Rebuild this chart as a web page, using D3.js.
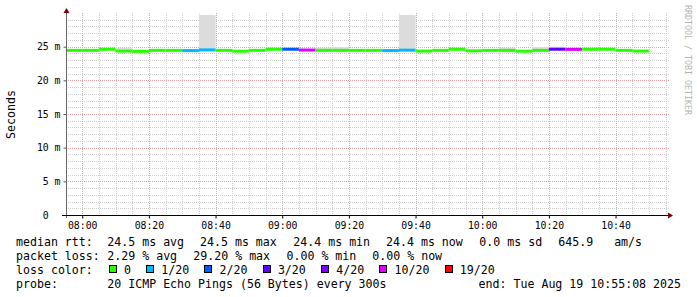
<!DOCTYPE html>
<html><head><meta charset="utf-8">
<script src="https://cdn.jsdelivr.net/npm/d3@7"></script>
<style>
html,body{margin:0;padding:0;background:#fff;}
svg{display:block;}
text{font-family:"DejaVu Sans Mono",monospace;}
</style></head><body>
<svg id="c" width="697" height="297"></svg>
<script>
// ---------- data ----------
const timeStart = "07:55:08";
const timeEnd = "10:55:08";
const slotStarts = ["07:55","08:00","08:05","08:10","08:15","08:20","08:25","08:30","08:35","08:40",
  "08:45","08:50","08:55","09:00","09:05","09:10","09:15","09:20","09:25","09:30",
  "09:35","09:40","09:45","09:50","09:55","10:00","10:05","10:10","10:15","10:20",
  "10:25","10:30","10:35","10:40","10:45"];
const medianMs = [24.45,24.45,24.62,24.35,24.30,24.45,24.45,24.42,24.52,24.45,
  24.33,24.45,24.62,24.62,24.50,24.45,24.45,24.45,24.45,24.42,
  24.48,24.35,24.45,24.62,24.38,24.45,24.45,24.33,24.45,24.62,
  24.60,24.62,24.62,24.45,24.35];
const lossCount = [0,0,0,0,0,0,0,1,1,0,
  0,0,0,2,10,0,0,0,0,1,
  1,0,0,0,0,0,0,0,0,3,
  10,0,0,0,0];
const smokeTopMs = [null,null,null,24.85,null,null,null,null,29.7,null,
  null,null,null,null,null,24.85,24.95,null,null,null,
  29.7,null,null,null,null,null,24.85,null,24.95,25.0,
  null,null,null,null,null];
const lossLegendLabels = ["0","1/20","2/20","3/20","4/20","10/20","19/20"];
const lossThresholds = [0,1,2,3,4,10,19];
const lossColors = ["#26ff00","#00b8ff","#0059ff","#5e00ff","#7e00ff","#dd00ff","#ff0000"];
const yTickValues = [0,5,10,15,20,25];
const yMaxMs = 30;
const yAxisTitle = "Seconds";
const watermark = "RRDTOOL / TOBI OETIKER";
const rttRow = ["median rtt:","24.5 ms avg","24.5 ms max","24.4 ms min","24.4 ms now","0.0 ms sd","645.9   am/s"];
const lossRow = ["packet loss:","2.29 % avg","29.20 % max","0.00 % min","0.00 % now"];
const lossColorTitle = "loss color:";
const probeRow = ["probe:","20 ICMP Echo Pings (56 Bytes) every 300s"];
const endText = "end: Tue Aug 19 10:55:08 2025";

// ---------- layout ----------
const plot = {left:66, right:666, top:13, bottom:215};
const svg = d3.select("#c");
const parseT = d3.timeParse("%H:%M:%S");
const parseM = d3.timeParse("%H:%M");
const t0 = parseT(timeStart), t1 = parseT(timeEnd);
const x = d3.scaleTime().domain([t0, t1]).range([plot.left, plot.right]);
const y = d3.scaleLinear().domain([0, yMaxMs]).range([plot.bottom, plot.top]);
const px = v => Math.round(v) + 0.5;

svg.append("rect").attr("width",697).attr("height",297).attr("fill","#fff");

// clip
svg.append("clipPath").attr("id","pc").append("rect")
  .attr("x",plot.left).attr("y",plot.top)
  .attr("width",plot.right-plot.left).attr("height",plot.bottom-plot.top);

// grid
const grid = svg.append("g");
const hVals = d3.range(1, yMaxMs);
grid.selectAll("line.h").data(hVals).join("line")
  .attr("x1",plot.left).attr("x2",plot.right+3)
  .attr("y1",d=>px(y(d))).attr("y2",d=>px(y(d)))
  .attr("stroke",d=>d%5===0?"#eaa3a3":"#cfcfcf")
  .attr("stroke-dasharray","1,1");
const vVals = d3.timeMinute.every(5).range(t0, t1);
grid.selectAll("line.v").data(vVals).join("line")
  .attr("x1",d=>px(x(d))).attr("x2",d=>px(x(d)))
  .attr("y1",plot.top).attr("y2",plot.bottom)
  .attr("stroke",d=>d.getMinutes()%20===0?"#eaa3a3":"#cfcfcf")
  .attr("stroke-dasharray","1,1");

// data rows
const rows = slotStarts.map((s,i)=>{
  const a = parseM(s);
  const b = d3.timeMinute.offset(a,5);
  let li = 0;
  lossThresholds.forEach((th,k)=>{ if (lossCount[i] >= th) li = k; });
  return {a, b, med: medianMs[i], smoke: smokeTopMs[i], color: lossColors[li]};
});

const dataG = svg.append("g").attr("clip-path","url(#pc)");
dataG.selectAll("rect.smoke").data(rows.filter(d=>d.smoke!==null)).join("rect")
  .attr("x",d=>x(d.a)).attr("width",d=>x(d.b)-x(d.a))
  .attr("y",d=>y(d.smoke)).attr("height",d=>y(d.med)-y(d.smoke))
  .attr("fill","#dcdcdc");
dataG.selectAll("line.med").data(rows).join("line")
  .attr("x1",d=>x(d.a)).attr("x2",d=>x(d.b))
  .attr("y1",d=>y(d.med)).attr("y2",d=>y(d.med))
  .attr("stroke",d=>d.color).attr("stroke-width",3);

// axes
const yAx = d3.axisLeft(y).tickValues(yTickValues)
  .tickFormat(v => v===0 ? "0  " : `${v} m`).tickSize(3).tickPadding(3);
const gy = svg.append("g").attr("transform",`translate(${plot.left+0.5},0)`).call(yAx);
gy.select(".domain").remove();
gy.selectAll(".tick line").attr("stroke","#555");
gy.selectAll("text").attr("font-size","9.8px").attr("fill","#000")
  .attr("font-family","DejaVu Sans Mono").attr("xml:space","preserve").style("white-space","pre");

const xAx = d3.axisBottom(x).tickValues(d3.timeMinute.every(20).range(t0,t1))
  .tickFormat(d3.timeFormat("%H:%M")).tickSize(3).tickPadding(3.5);
const gx = svg.append("g").attr("transform",`translate(0,${plot.bottom+0.5})`).call(xAx);
gx.select(".domain").remove();
gx.selectAll(".tick line").attr("stroke","#000");
gx.selectAll("text").attr("font-size","9.8px").attr("fill","#000").attr("font-family","DejaVu Sans Mono");

svg.append("line").attr("x1",plot.left+0.5).attr("x2",plot.left+0.5)
  .attr("y1",plot.bottom+3).attr("y2",plot.top).attr("stroke","#666");
svg.append("line").attr("x1",plot.left-4).attr("x2",plot.right+2)
  .attr("y1",plot.bottom+0.5).attr("y2",plot.bottom+0.5).attr("stroke","#000");
svg.append("path").attr("d",`M${plot.left-2.5},${plot.top}L${plot.left+3.5},${plot.top}L${plot.left+0.5},${plot.top-5}Z`).attr("fill","#7f0000");
svg.append("path").attr("d",`M${plot.right+2},${plot.bottom-2.5}L${plot.right+2},${plot.bottom+3.5}L${plot.right+7},${plot.bottom+0.5}Z`).attr("fill","#7f0000");

// y title
svg.append("text").attr("transform",`translate(15,${(plot.top+plot.bottom)/2+0.5}) rotate(-90)`)
  .attr("text-anchor","middle").attr("font-size","11.6px").attr("fill","#000").text(yAxisTitle);
// watermark
svg.append("text").attr("transform","translate(685,5) rotate(90)")
  .attr("font-size","8.3px").attr("fill","#b4b4b4").text(watermark);

// legend
const fs = "11.6px";
const leg = svg.append("g").attr("font-size",fs).attr("fill","#000");
const rttX = [16,107.3,200,293.3,386,479.3,558.3];
rttRow.forEach((t,i)=>leg.append("text").attr("x",rttX[i]).attr("y",246).attr("xml:space","preserve").style("white-space","pre").text(t));
const lossX = [16,107.3,193.3,286.5,372.3];
lossRow.forEach((t,i)=>leg.append("text").attr("x",lossX[i]).attr("y",260).text(t));
leg.append("text").attr("x",16).attr("y",274).text(lossColorTitle);
let cx = 108.7;
const charW = 7.0;
lossLegendLabels.forEach((lab,i)=>{
  leg.append("rect").attr("x",Math.round(cx)+0.5).attr("y",265.5).attr("width",7).attr("height",7)
    .attr("fill",lossColors[i]).attr("stroke","#000");
  leg.append("text").attr("x",cx+15.3).attr("y",274).text(lab);
  cx += 15.3 + lab.length*charW + 15;
});
leg.append("text").attr("x",16).attr("y",287.5).text(probeRow[0]);
leg.append("text").attr("x",107.3).attr("y",287.5).text(probeRow[1]);
leg.append("text").attr("x",681).attr("y",287.5).attr("text-anchor","end").text(endText);
</script>
</body></html>
